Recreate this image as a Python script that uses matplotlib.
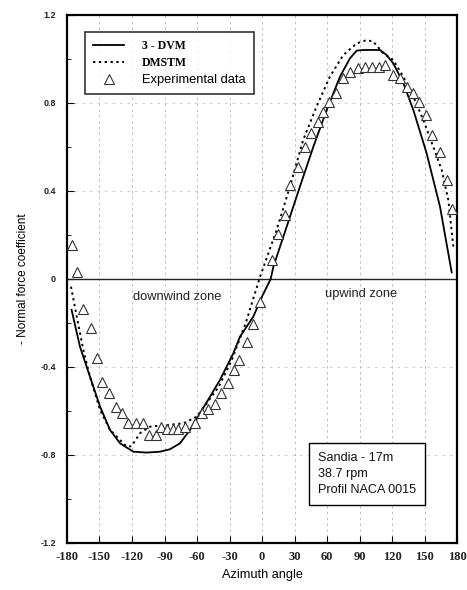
import matplotlib
matplotlib.use("Agg")
import matplotlib.pyplot as plt
from matplotlib.lines import Line2D
import numpy as np

# ---- data ----
exp_angle = [-175, -170.5, -164.9, -158.1, -152.6, -147.4, -141, -135, -129.5, -123.4,
             -116.3, -110, -104, -98, -93.2, -88, -82.4, -77.3, -71.1, -61.8,
             -55.7, -49.6, -43.4, -37.8, -31.7, -25.6, -21, -14.1, -8, -1.8,
             9, 15, 21.2, 25.8, 33.5, 39.7, 45.2, 52, 56.6, 62.1,
             68.3, 74.5, 81.2, 88.3, 95, 101.3, 108.3, 113.5, 120.6, 127.4,
             133.6, 139.1, 145.2, 151.4, 156.6, 164.3, 170.5, 175.1]
exp_cn = [0.155, 0.033, -0.136, -0.224, -0.36, -0.467, -0.52, -0.58, -0.61, -0.656,
          -0.656, -0.656, -0.71, -0.71, -0.671, -0.682, -0.682, -0.682, -0.671, -0.656,
          -0.61, -0.59, -0.568, -0.517, -0.474, -0.414, -0.368, -0.285, -0.206, -0.103,
          0.086, 0.205, 0.29, 0.427, 0.51, 0.601, 0.662, 0.715, 0.76, 0.806,
          0.844, 0.912, 0.942, 0.958, 0.965, 0.965, 0.965, 0.973, 0.927, 0.912,
          0.874, 0.844, 0.806, 0.745, 0.655, 0.579, 0.45, 0.32]

dvm_angle = [-175.8, -168, -158.8, -149.5, -140.3, -131, -118.8, -106.5, -94.2, -85,
             -75.7, -66.5, -57.2, -48, -38.8, -26.5, -20.3, -8, 0, 8,
             10.5, 22.8, 35, 47.4, 59.7, 72, 81.2, 87.4, 93.5, 108.9,
             115, 121.2, 130.5, 139.7, 152, 164.3, 175.1]
dvm_cn = [-0.14, -0.308, -0.444, -0.58, -0.686, -0.747, -0.785, -0.789, -0.785, -0.774,
          -0.747, -0.686, -0.61, -0.535, -0.459, -0.338, -0.262, -0.171, -0.08, 0.0,
          0.056, 0.238, 0.42, 0.601, 0.768, 0.92, 1.003, 1.038, 1.041, 1.041,
          1.018, 0.98, 0.89, 0.768, 0.571, 0.329, 0.03]

dms_angle = [-176.3, -171, -164.9, -158.8, -149.5, -140.3, -131, -125, -120.5, -112.6,
             -103.4, -88, -72.6, -60.3, -51, -40, -28, -15, -1.8, 13.5,
             25.8, 38, 50.3, 62.7, 75, 87.4, 96.6, 102.7, 112, 121.2,
             130.4, 139.7, 148.9, 158.1, 165.9, 172, 176.6]
dms_cn = [-0.035, -0.171, -0.323, -0.444, -0.595, -0.686, -0.732, -0.762, -0.76, -0.701,
          -0.671, -0.664, -0.656, -0.626, -0.565, -0.49, -0.37, -0.2, 0.01, 0.223,
          0.42, 0.632, 0.783, 0.92, 1.018, 1.071, 1.086, 1.079, 1.026, 0.995,
          0.92, 0.829, 0.723, 0.601, 0.495, 0.359, 0.147]

xticks = [-180, -150, -120, -90, -60, -30, 0, 30, 60, 90, 120, 150, 180]
yticks = [-1.2, -0.8, -0.4, 0, 0.4, 0.8, 1.2]
ytick_labels = ["-1.2", "-0.8", "-0.4", "0", "0.4", "0.8", "1.2"]

fig = plt.figure(figsize=(4.67, 5.90), dpi=100)
ax = fig.add_axes([67/467, 1-543/590, (457-67)/467, (543-15)/590])

ax.plot(dvm_angle, dvm_cn, color="black", lw=1.3, zorder=3)
ax.plot(dms_angle, dms_cn, color="black", lw=1.4, ls=(0, (1.2, 1.8)), zorder=3)
ax.plot(exp_angle, exp_cn, ls="none", marker="^", ms=7.2, mfc="white", mec="#333333",
        mew=0.8, zorder=4)

ax.axhline(0, color="#222222", lw=1.0, zorder=2)

ax.set_xlim(-180, 180)
ax.set_ylim(-1.2, 1.2)
ax.set_xticks(xticks)
ax.set_xticklabels([str(v) for v in xticks], family="Liberation Serif",
                   fontsize=9, fontweight="bold", color="#222222")
ax.set_yticks(yticks)
ax.set_yticklabels(ytick_labels, family="Liberation Sans", fontsize=6.5,
                   fontweight="bold", color="#222222")
ax.set_yticks(np.arange(-1.2, 1.21, 0.2), minor=True)
ax.tick_params(axis="both", which="major", direction="in", length=5, width=0.8, pad=6)
ax.tick_params(axis="y", which="minor", direction="in", length=3, width=0.6)
ax.tick_params(axis="y", pad=8)

for v in xticks[1:-1]:
    ax.axvline(v, color="#b5b5b5", lw=0.6, ls=(0, (3, 4)), zorder=1)
for v in [-0.8, -0.4, 0.4, 0.8]:
    ax.axhline(v, color="#c5c5c5", lw=0.6, ls=(0, (3, 6)), zorder=1)

for s in ax.spines.values():
    s.set_linewidth(1.6)
    s.set_color("black")

ax.set_xlabel("Azimuth angle", family="Liberation Sans", fontsize=9.2, labelpad=4)
ax.set_ylabel("- Normal force coefficient", family="Liberation Sans", fontsize=8.5,
              labelpad=8)

ax.text(-78, -0.08, "downwind zone", ha="center", va="center",
        family="Liberation Sans", fontsize=9.3, color="#222222")
ax.text(91, -0.07, "upwind zone", ha="center", va="center",
        family="Liberation Sans", fontsize=9.3, color="#222222")

# info box
ax.text(51.5, -0.785, "Sandia - 17m\n38.7 rpm\nProfil NACA 0015", ha="left", va="top",
        family="Liberation Sans", fontsize=9.1, linespacing=1.45, color="#111111",
        bbox=dict(boxstyle="square,pad=0.7", fc="white", ec="black", lw=1.0))

# legend
handles = [Line2D([], [], color="black", lw=1.3),
           Line2D([], [], color="black", lw=1.4, ls=(0, (1.2, 1.8))),
           Line2D([], [], ls="none", marker="^", ms=7, mfc="white", mec="#333333", mew=0.8)]
leg = ax.legend(handles, ["3 - DVM", "DMSTM", "Experimental data"],
                loc="upper left", bbox_to_anchor=(18/390, 1-17/528), borderaxespad=0,
                frameon=True, fancybox=False, edgecolor="black", fontsize=8.5,
                handlelength=2.6, borderpad=0.7, labelspacing=0.4, handletextpad=1.5)
leg.get_frame().set_linewidth(1.2)
txts = leg.get_texts()
txts[0].set_family("Liberation Serif"); txts[0].set_fontweight("bold")
txts[1].set_family("Liberation Serif"); txts[1].set_fontweight("bold")
txts[2].set_family("Liberation Sans"); txts[2].set_fontsize(9.3)

fig.savefig("out.png", dpi=100)
